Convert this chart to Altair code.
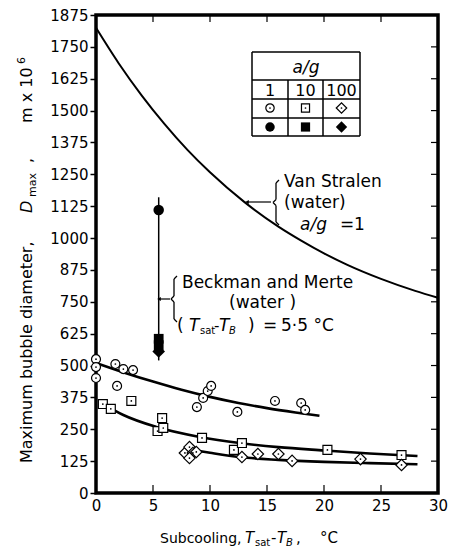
import altair as alt
import pandas as pd

FONT = "DejaVu Sans"

# ---------------- data ----------------
circle_x = [0, 0, 0, 1.7, 2.4, 3.25, 1.85, 8.85, 9.4, 9.8, 10.1, 12.4, 15.7, 18.0, 18.35]
circle_y = [525, 494, 451, 506, 486, 482, 420, 337, 373, 400, 420, 318, 361, 353, 326]

square_x = [0.6, 1.3, 3.1, 5.4, 5.8, 5.9, 9.3, 12.1, 12.8, 20.3, 26.8]
square_y = [349, 330, 361, 243, 294, 255, 216, 169, 196, 169, 149]

diamond_x = [7.8, 8.2, 8.5, 8.2, 8.8, 12.8, 14.2, 16.0, 17.2, 23.2, 26.8]
diamond_y = [157, 180, 157, 137, 161, 141, 153, 153, 126, 133, 110]

circ_curve_x = [0, 2.5, 5, 7.5, 10, 12.5, 15, 17.5, 19.6]
circ_curve_y = [510, 472, 437, 405, 377, 353, 333, 316, 303]

sq_curve_x = [0.8, 2.4, 5.3, 9.1, 12.6, 16, 20, 24, 28.2]
sq_curve_y = [345, 306, 259, 220, 196, 180, 167, 155, 145]

dia_curve_x = [8.5, 10, 12.6, 16, 20, 24, 28.2]
dia_curve_y = [169, 158, 141, 130, 122, 117, 113]

vs_x = [0, 2, 4, 6, 8, 10, 13, 16, 18, 20, 22, 25, 28, 30]
vs_y = [1825, 1685, 1560, 1448, 1347, 1258, 1142, 1045, 990, 940, 896, 840, 793, 766]

bm_x = 5.5
bm_top, bm_bot = 1160, 520
bm_circle = [1110]
bm_squares = [605, 580]
bm_diamond = [555]

x_ticks = [0, 5, 10, 15, 20, 25, 30]
y_ticks = list(range(0, 1876, 125))

# ---------------- scales / axes ----------------
x_scale = alt.Scale(domain=[0, 30], nice=False, zero=False)
y_scale = alt.Scale(domain=[0, 1875], nice=False, zero=False)
x_axis = alt.Axis(values=x_ticks, title=None, ticks=False, domain=False, grid=False,
                  labelFont=FONT, labelFontSize=15, labelPadding=5, labelColor="black",
                  labelFlush=False, format="d")
y_axis = alt.Axis(values=y_ticks, title=None, tickSize=6, tickWidth=1.5, tickColor="black",
                  domain=False, grid=False, labelFont=FONT, labelFontSize=15,
                  labelPadding=2, labelColor="black", labelFlush=False, format="d")


def X(f):
    return alt.X(f, type="quantitative", scale=x_scale, axis=x_axis)


def Y(f):
    return alt.Y(f, type="quantitative", scale=y_scale, axis=y_axis)


layers = []

# curves
for cx, cy, w in [(vs_x, vs_y, 2), (circ_curve_x, circ_curve_y, 2.6),
                  (sq_curve_x, sq_curve_y, 2.6), (dia_curve_x, dia_curve_y, 2.6)]:
    df = pd.DataFrame({"x": cx, "y": cy})
    layers.append(alt.Chart(df).mark_line(color="black", strokeWidth=w,
                                           interpolate="monotone").encode(x=X("x"), y=Y("y")))

# Beckman & Merte vertical line
layers.append(alt.Chart(pd.DataFrame({"x": [bm_x], "y": [bm_top], "y2": [bm_bot]}))
              .mark_rule(color="black", strokeWidth=1.5)
              .encode(x=X("x"), y=Y("y"), y2="y2"))

# open markers
for mx, my, shape, size in [(circle_x, circle_y, "circle", 80),
                            (square_x, square_y, "square", 80),
                            (diamond_x, diamond_y, "diamond", 130)]:
    df = pd.DataFrame({"x": mx, "y": my})
    layers.append(alt.Chart(df).mark_point(shape=shape, size=size, filled=True, fill="white",
                                            stroke="black", strokeWidth=1.2, opacity=1)
                  .encode(x=X("x"), y=Y("y")))
    layers.append(alt.Chart(df).mark_circle(size=3, color="black", opacity=1)
                  .encode(x=X("x"), y=Y("y")))

# filled markers on Beckman line
for vals, shape, size in [(bm_circle, "circle", 110), (bm_squares, "square", 95),
                          (bm_diamond, "diamond", 160)]:
    df = pd.DataFrame({"x": [bm_x] * len(vals), "y": vals})
    layers.append(alt.Chart(df).mark_point(shape=shape, size=size, filled=True,
                                            color="black", opacity=1)
                  .encode(x=X("x"), y=Y("y")))

# inward ticks: top, bottom, right
inner_x = pd.DataFrame({"v": x_ticks[1:-1]})
inner_y = pd.DataFrame({"v": y_ticks[1:-1]})
layers.append(alt.Chart(inner_x).mark_rule(color="black", strokeWidth=1.2)
              .encode(x=X("v"), y=alt.value(0), y2=alt.value(7)))
layers.append(alt.Chart(inner_x).mark_rule(color="black", strokeWidth=1.2)
              .encode(x=X("v"), y=alt.value(478), y2=alt.value(470)))
layers.append(alt.Chart(inner_y).mark_rule(color="black", strokeWidth=1.2)
              .encode(y=Y("v"), x=alt.value(342), x2=alt.value(335)))

# ---------------- decorations (pixel positions in plot area) ----------------
OX, OY = 96, 15  # plot origin in the page


def seg(x1, y1, x2, y2, w=1.3):
    return alt.Chart(pd.DataFrame({"a": [0]})).mark_rule(color="black", strokeWidth=w).encode(
        x=alt.value(x1 - OX), x2=alt.value(x2 - OX), y=alt.value(y1 - OY), y2=alt.value(y2 - OY))


def txt(s, x, y, size=17, italic=False, align="left", angle=0, baseline="alphabetic"):
    kw = dict(text=s, font=FONT, fontSize=size, align=align, baseline=baseline, color="black")
    if italic:
        kw["fontStyle"] = "italic"
    if angle:
        kw["angle"] = angle
    return alt.Chart(pd.DataFrame({"a": [0]})).mark_text(**kw).encode(
        x=alt.value(x - OX), y=alt.value(y - OY))


def brace(x0, top, bot):
    mid = (top + bot) / 2
    return [seg(x0 + 3, top, x0, top + 3), seg(x0, top + 3, x0, mid - 3),
            seg(x0, mid - 3, x0 - 3, mid), seg(x0 - 3, mid, x0, mid + 3),
            seg(x0, mid + 3, x0, bot - 3), seg(x0, bot - 3, x0 + 3, bot)]


def arrow_left(x1, x2, y):
    head = alt.Chart(pd.DataFrame({"a": [0]})).mark_point(
        shape="triangle-left", size=18, filled=True, color="black", opacity=1).encode(
        x=alt.value(x2 + 2 - OX), y=alt.value(y - OY))
    return [seg(x1, y, x2 + 2, y, 1.2), head]


# Van Stralen annotation
layers += brace(276, 180, 225)
layers += arrow_left(271, 245, 202)
layers += [txt("Van Stralen", 284, 187), txt("(water)", 284, 208),
           txt("a/g", 300, 230, italic=True), txt("=", 340, 230), txt("1", 354, 230)]

# Beckman annotation
layers += brace(174, 276, 322)
layers += arrow_left(170, 157, 299)
layers += [txt("Beckman and Merte", 182, 288), txt("(water )", 229, 308),
           txt("(", 177, 331), txt("T", 189, 331, italic=True),
           txt("sat", 200, 334, size=10), txt("-", 214, 331, size=15),
           txt("T", 219, 331, italic=True), txt("B", 229, 334, size=10, italic=True),
           txt(")", 248, 331), txt("=", 263, 331), txt("5·5 °C", 281, 331)]

# legend table
for yy in [52, 80, 99, 118, 136]:
    layers.append(seg(252, yy, 360, yy, 1.5))
layers += [seg(252, 52, 252, 136, 1.5), seg(360, 52, 360, 136, 1.5),
           seg(288, 80, 288, 136, 1.5), seg(323, 80, 323, 136, 1.5)]
layers += [txt("a/g", 306, 73, size=17, italic=True, align="center"),
           txt("1", 270, 96, size=16, align="center"),
           txt("10", 305.5, 96, size=16, align="center"),
           txt("100", 341.5, 96, size=16, align="center")]
for cx, shape, size in [(270, "circle", 70), (305.5, "square", 65), (341.5, "diamond", 110)]:
    layers.append(alt.Chart(pd.DataFrame({"a": [0]})).mark_point(
        shape=shape, size=size, filled=True, fill="white", stroke="black", strokeWidth=1.2,
        opacity=1).encode(x=alt.value(cx - OX), y=alt.value(108 - OY)))
    layers.append(alt.Chart(pd.DataFrame({"a": [0]})).mark_circle(
        size=3, color="black", opacity=1).encode(x=alt.value(cx - OX), y=alt.value(108 - OY)))
    layers.append(alt.Chart(pd.DataFrame({"a": [0]})).mark_point(
        shape=shape, size=size + 20, filled=True, color="black", opacity=1).encode(
        x=alt.value(cx - OX), y=alt.value(127 - OY)))

# y-axis title (rotated pieces)
layers += [txt("Maximum bubble diameter,", 32, 463, size=16, angle=270),
           txt("D", 32, 213, size=16, angle=270, italic=True),
           txt("max", 36, 197, size=11, angle=270),
           txt(",", 32, 163, size=16, angle=270),
           txt("m x 10", 32, 123, size=16, angle=270),
           txt("6", 25, 64, size=11, angle=270)]

# x-axis title pieces
layers += [txt("Subcooling,", 160, 543, size=14),
           txt("T", 245, 543, size=15, italic=True),
           txt("sat", 255, 546, size=10),
           txt("-", 271, 543, size=15),
           txt("T", 277, 543, size=15, italic=True),
           txt("B", 286, 546, size=10, italic=True),
           txt(",", 296, 543, size=15),
           txt("°C", 320, 543, size=15)]

chart = alt.layer(*layers).properties(
    width=342, height=478,
    autosize=alt.AutoSizeParams(type="none"),
    padding={"left": OX, "top": OY, "right": 19, "bottom": 57},
).configure_view(stroke="black", strokeWidth=3.5).configure_axis(grid=False)

chart.save("out.html", embed_options={"renderer": "svg", "actions": False})
